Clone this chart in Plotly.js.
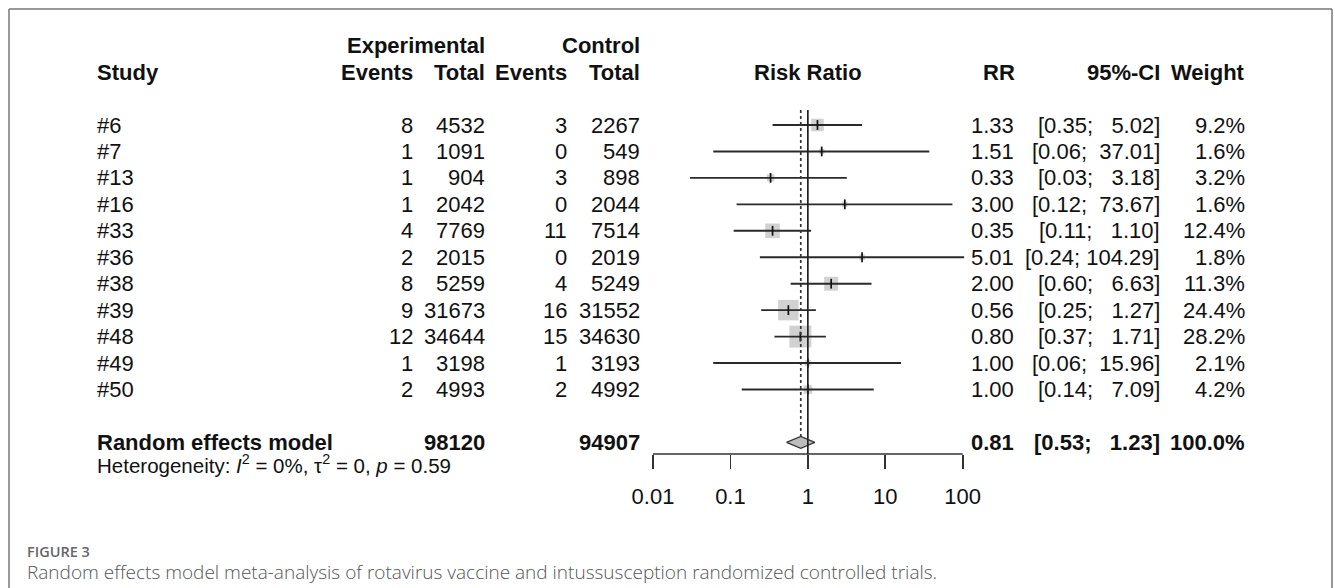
<!DOCTYPE html>
<html>
<head>
<meta charset="utf-8">
<script src="https://cdn.plot.ly/plotly-3.0.1.min.js"></script>
<style>html,body{margin:0;padding:0;background:#fff;}#chart{width:1335px;height:588px;}</style>
</head>
<body>
<div id="chart"></div>
<script>
// ---------------- data ----------------
const studies    = ['#6','#7','#13','#16','#33','#36','#38','#39','#48','#49','#50'];
const expEvents  = [8, 1, 1, 1, 4, 2, 8, 9, 12, 1, 2];
const expTotal   = [4532, 1091, 904, 2042, 7769, 2015, 5259, 31673, 34644, 3198, 4993];
const ctrlEvents = [3, 0, 3, 0, 11, 0, 4, 16, 15, 1, 2];
const ctrlTotal  = [2267, 549, 898, 2044, 7514, 2019, 5249, 31552, 34630, 3193, 4992];
const rr         = [1.33, 1.51, 0.33, 3.00, 0.35, 5.01, 2.00, 0.56, 0.80, 1.00, 1.00];
const ciLow      = [0.35, 0.06, 0.03, 0.12, 0.11, 0.24, 0.60, 0.25, 0.37, 0.06, 0.14];
const ciHigh     = [5.02, 37.01, 3.18, 73.67, 1.10, 104.29, 6.63, 1.27, 1.71, 15.96, 7.09];
const weights    = [9.2, 1.6, 3.2, 1.6, 12.4, 1.8, 11.3, 24.4, 28.2, 2.1, 4.2];

const pooledLabel = 'Random effects model';
const pooledExpTotal = 98120;
const pooledCtrlTotal = 94907;
const pooledRR = 0.81;
const pooledLow = 0.53;
const pooledHigh = 1.23;
const pooledWeight = 100.0;

const tickVals = [0.01, 0.1, 1, 10, 100];
const tickText = ['0.01', '0.1', '1', '10', '100'];

const headerTop = ['Experimental', 'Control'];
const headerCols = ['Study', 'Events', 'Total', 'Events', 'Total', 'Risk Ratio', 'RR', '95%-CI', 'Weight'];
const hetText = 'Heterogeneity: <i>I</i><sup>2</sup> = 0%, \u03C4<sup>2</sup> = 0, <i>p</i> = 0.59';
const figLabel = 'FIGURE 3';
const caption = 'Random effects model meta-analysis of rotavirus vaccine and intussusception randomized controlled trials.';

// ---------------- layout helpers ----------------
const W = 1335, H = 588;
const MB = 134;                 // bottom margin -> axis line at pixel 454
const PH = H - MB;              // plot height
const rowPx = 26.45, row0Px = 125;
const yRange = [(PH - row0Px) / rowPx, (0 - row0Px) / rowPx];
const pxPerDec = 77.43, px001 = 653;
const xRange = [-2 - px001 / pxPerDec, -2 + (W - px001) / pxPerDec];
const px = p => p / W;                       // pixel -> paper x
const py = p => (PH - p) / PH;               // pixel -> paper y
const FONT = 'Liberation Sans, Arial, Helvetica, sans-serif';
const FS = 22;
const nbsp = '\u00A0';

// column right edges (pixels)
const colX = {study: 96, expEv: 414, expTot: 486, ctrlEv: 568, ctrlTot: 641, rrHead: 808, rr: 1015, ci: 1161, wt: 1246};

const ROW_H1 = -3, ROW_H2 = -2;
const ROW_POOL = studies.length + 1;

function fmtCI(lo, hi) {
  let h = hi.toFixed(2);
  while (h.length < 6) h = nbsp + h;
  return '[' + lo.toFixed(2) + ';' + nbsp + h + ']';
}

const ann = [];
function txt(text, xp, row, anchor, bold, size, extra) {
  ann.push(Object.assign({
    text: bold ? '<b>' + text + '</b>' : text,
    x: px(xp), xref: 'paper', y: row, yref: 'y',
    xanchor: anchor, yanchor: 'middle', showarrow: false, borderpad: 0,
    font: {family: FONT, size: size || FS, color: '#111'}
  }, extra || {}));
}

// header
txt(headerTop[0], colX.expTot, ROW_H1, 'right', true);
txt(headerTop[1], colX.ctrlTot, ROW_H1, 'right', true);
txt(headerCols[0], colX.study, ROW_H2, 'left', true);
txt(headerCols[1], colX.expEv, ROW_H2, 'right', true);
txt(headerCols[2], colX.expTot, ROW_H2, 'right', true);
txt(headerCols[3], colX.ctrlEv, ROW_H2, 'right', true);
txt(headerCols[4], colX.ctrlTot, ROW_H2, 'right', true);
txt(headerCols[5], colX.rrHead, ROW_H2, 'center', true);
txt(headerCols[6], colX.rr + 1, ROW_H2, 'right', true);
txt(headerCols[7], colX.ci, ROW_H2, 'right', true);
txt(headerCols[8], colX.wt, ROW_H2, 'right', true);

// study rows
const rows = studies.map((s, i) => i);
studies.forEach((s, i) => {
  txt(s, colX.study, i, 'left', false);
  txt(String(expEvents[i]), colX.expEv, i, 'right', false);
  txt(String(expTotal[i]), colX.expTot, i, 'right', false);
  txt(String(ctrlEvents[i]), colX.ctrlEv, i, 'right', false);
  txt(String(ctrlTotal[i]), colX.ctrlTot, i, 'right', false);
  txt(rr[i].toFixed(2), colX.rr, i, 'right', false);
  txt(fmtCI(ciLow[i], ciHigh[i]), colX.ci, i, 'right', false);
  txt(weights[i].toFixed(1) + '%', colX.wt, i, 'right', false);
});

// pooled row
txt(pooledLabel, colX.study, ROW_POOL, 'left', true);
txt(String(pooledExpTotal), colX.expTot, ROW_POOL, 'right', true);
txt(String(pooledCtrlTotal), colX.ctrlTot, ROW_POOL, 'right', true);
txt(pooledRR.toFixed(2), colX.rr, ROW_POOL, 'right', true);
txt(fmtCI(pooledLow, pooledHigh), colX.ci, ROW_POOL, 'right', true);
txt(pooledWeight.toFixed(1) + '%', colX.wt, ROW_POOL, 'right', true);

// heterogeneity line (sits level with the axis, so placed in paper coords)
ann.push({text: hetText, x: px(colX.study), xref: 'paper', y: py(463.5), yref: 'paper', xanchor: 'left', yanchor: 'middle',
  showarrow: false, borderpad: 0, font: {family: FONT, size: 20.5, color: '#111'}});

// caption
ann.push({text: figLabel, x: px(26), xref: 'paper', y: py(551), yref: 'paper', xanchor: 'left', yanchor: 'middle',
  showarrow: false, borderpad: 0, font: {family: 'Open Sans, Noto Sans, sans-serif', size: 14.5, color: '#666', weight: 600}});
ann.push({text: caption, x: px(26), xref: 'paper', y: py(572), yref: 'paper', xanchor: 'left', yanchor: 'middle',
  showarrow: false, borderpad: 0, font: {family: 'Open Sans, Noto Sans, sans-serif', size: 19, color: '#555', weight: 300}});

// ---------------- traces ----------------
const squareSize = weights.map(w => 4.14 * Math.sqrt(w));
const squares = {
  type: 'scatter', mode: 'markers', x: rr, y: rows,
  marker: {symbol: 'square', size: squareSize, color: '#bdbdbd', line: {width: 0}},
  hoverinfo: 'skip', showlegend: false
};
const cis = {
  type: 'scatter', mode: 'markers', x: rr, y: rows,
  marker: {symbol: 'line-ns', size: 7, color: '#111', line: {width: 1.7, color: '#111'}},
  error_x: {type: 'data', symmetric: false,
    array: rr.map((v, i) => ciHigh[i] - v), arrayminus: rr.map((v, i) => v - ciLow[i]),
    width: 0, thickness: 1.9, color: '#2a2a2a'},
  hoverinfo: 'skip', showlegend: false
};
const dh = 5.9 / rowPx;
const diamond = {
  type: 'scatter', mode: 'lines',
  x: [pooledLow, pooledRR, pooledHigh, pooledRR, pooledLow],
  y: [ROW_POOL, ROW_POOL - dh, ROW_POOL, ROW_POOL + dh, ROW_POOL],
  fill: 'toself', fillcolor: '#bdbdbd', line: {color: '#333', width: 1.3},
  hoverinfo: 'skip', showlegend: false
};

// ---------------- shapes ----------------
const shapes = [
  // x-axis line (0.01 .. 100), data values on the log axis
  {type: 'line', xref: 'x', yref: 'paper', x0: tickVals[0], x1: tickVals[tickVals.length - 1], y0: 0, y1: 0,
   line: {color: '#333', width: 1.6}},
  // line of no effect
  {type: 'line', xref: 'x', yref: 'y', x0: 1, x1: 1, y0: -0.57, y1: yRange[0], line: {color: '#222', width: 1.7}},
  // pooled estimate dotted line
  {type: 'line', xref: 'x', yref: 'y', x0: pooledRR, x1: pooledRR, y0: -0.57, y1: ROW_POOL - dh,
   line: {color: '#333', width: 1.7, dash: 'dot'}},
  // frame
  {type: 'line', xref: 'paper', yref: 'paper', x0: px(9), x1: px(1332), y0: py(9), y1: py(9), line: {color: '#777', width: 1.5}},
  {type: 'line', xref: 'paper', yref: 'paper', x0: px(9), x1: px(9), y0: py(9), y1: py(600), line: {color: '#777', width: 1.5}},
  {type: 'line', xref: 'paper', yref: 'paper', x0: px(1332), x1: px(1332), y0: py(9), y1: py(600), line: {color: '#777', width: 1.5}}
];

const layout = {
  width: W, height: H,
  margin: {l: 0, r: 0, t: 0, b: MB, pad: 0},
  paper_bgcolor: '#fff', plot_bgcolor: '#fff',
  showlegend: false,
  xaxis: {type: 'log', range: xRange, tickvals: tickVals, ticktext: tickText,
    ticks: 'outside', ticklen: 14, tickwidth: 1.6, tickcolor: '#333',
    showgrid: false, zeroline: false, showline: false, fixedrange: true,
    ticklabelstandoff: 9,
    tickfont: {family: FONT, size: FS, color: '#111'}},
  yaxis: {range: yRange, visible: false, showgrid: false, zeroline: false, fixedrange: true},
  annotations: ann,
  shapes: shapes
};

Plotly.newPlot('chart', [squares, cis, diamond], layout, {displayModeBar: false, staticPlot: true});
</script>
</body>
</html>
